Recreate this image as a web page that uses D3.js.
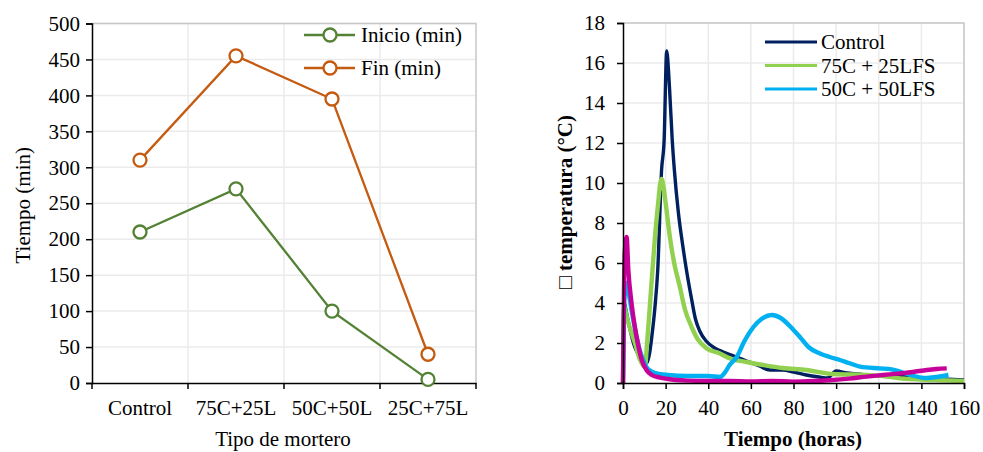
<!DOCTYPE html>
<html><head><meta charset="utf-8">
<script src="https://cdn.jsdelivr.net/npm/d3@7"></script>
<style>
body{margin:0;background:#fff;}
svg{display:block;font-family:"Liberation Serif","Times New Roman",serif;}
</style></head>
<body>
<svg id="c" width="983" height="452"></svg>
<script>
// ---------- Left chart data ----------
const categories = ["Control", "75C+25L", "50C+50L", "25C+75L"];
const inicio = [210, 270, 100, 5];
const fin = [310, 455, 395, 40];
const leftTicks = [0, 50, 100, 150, 200, 250, 300, 350, 400, 450, 500];

// ---------- Right chart data ----------
const controlT = [0,0.6,1.5,3,5.5,8,10,11.2,12.5,13.5,15,16.3,18.1,19.3,20.5,21.8,23.1,24.1,26,28,30,32,34,36,39,43,47,52,58,64,69,75,80,86,92,96,100,105,110,120,130,140,150,160];
const controlV = [0,4.0,3.6,2.8,1.8,1.3,1.05,1.0,1.5,2.3,3.8,5.65,10.65,12.15,16.6,14.8,12.15,10.65,8.5,6.9,5.5,4.3,3.2,2.6,2.1,1.75,1.55,1.35,1.1,0.85,0.65,0.65,0.55,0.4,0.3,0.25,0.6,0.5,0.45,0.35,0.35,0.25,0.2,0.15];
const c75T = [0,0.5,2,4,5.6,8,9.3,10.3,11.3,12.7,15,16.5,17.5,18.1,19,20,22,24,26.7,29,32.2,35,39.3,45,50.2,58,65.8,75,86,98.6,114.4,122,130,145.5,160];
const c75V = [0,3.8,3.2,2.5,2.0,1.15,0.9,0.8,2.0,4.0,7.3,9.0,10.0,10.2,9.8,9.0,7.3,6.0,4.8,3.7,2.8,2.2,1.73,1.5,1.23,1.05,0.9,0.75,0.65,0.45,0.4,0.35,0.23,0.15,0.1];
const c50T = [0,0.8,1.7,2.5,4,6.4,8,9.5,11,13.5,17,21,30,40,45.5,48,50,53.4,57,61.2,65,69.8,74,80,83,87,92.4,97,101.8,106,111.2,120.6,126,130,134.7,142.5,147,152.7];
const c50V = [0,4.5,5.0,4.6,3.65,2.3,1.6,1.15,0.8,0.57,0.45,0.4,0.35,0.35,0.3,0.55,0.9,1.3,2.1,2.8,3.2,3.4,3.25,2.65,2.3,1.8,1.48,1.3,1.15,1.0,0.82,0.73,0.68,0.57,0.4,0.25,0.3,0.4];
const c25T = [0,0.8,1.7,2.5,4,6.4,8.8,11,13.5,17,21,30,40,50,60,70,80,90,98.6,106,114.4,122,130,136,142.5,147,151.9];
const c25V = [0,6.5,7.3,5.65,4.0,2.3,1.15,0.65,0.4,0.28,0.2,0.12,0.1,0.1,0.08,0.1,0.07,0.1,0.15,0.22,0.32,0.4,0.48,0.55,0.65,0.7,0.73];
const rightYTicks = [0,2,4,6,8,10,12,14,16,18];
const rightXTicks = [0,20,40,60,80,100,120,140,160];
const seriesNames = ["Control", "75C + 25LFS", "50C + 50LFS", ""];

const svg = d3.select("#c");
const GRID = "#ebebeb", BORDER = "#c8c8c8", FS = 21;

// ================= LEFT CHART =================
{
  const L = 92, R = 476, T = 23.5, B = 383;
  const x = d3.scaleBand().domain(categories).range([L, R]).padding(0);
  const y = d3.scaleLinear().domain([0, 500]).range([B, T]);
  const g = svg.append("g");
  g.selectAll(".hg").data(leftTicks.slice(1)).enter().append("line")
    .attr("x1", L).attr("x2", R).attr("y1", d => y(d)).attr("y2", d => y(d))
    .attr("stroke", GRID).attr("stroke-width", 1.5);
  const bounds = categories.map(c => x(c)).slice(1);
  g.selectAll(".vg").data(bounds).enter().append("line")
    .attr("x1", d => d).attr("x2", d => d).attr("y1", T).attr("y2", B)
    .attr("stroke", GRID).attr("stroke-width", 1.5);
  g.append("path").attr("d", `M${L},${T}H${R}V${B}`).attr("fill", "none")
    .attr("stroke", BORDER).attr("stroke-width", 1.5);
  const ya = d3.axisLeft(y).tickValues(leftTicks).tickSize(6).tickPadding(6);
  const yg = g.append("g").attr("transform", `translate(${L},0)`).call(ya);
  yg.select(".domain").attr("stroke", "#000").attr("stroke-width", 1.5);
  yg.selectAll(".tick line").attr("stroke", "#000").attr("stroke-width", 1.5);
  yg.selectAll("text").attr("font-size", FS).attr("font-family", "Liberation Serif").attr("fill", "#000");
  const xa = d3.axisBottom(x).tickSize(0).tickPadding(17);
  const xg = g.append("g").attr("transform", `translate(0,${B})`).call(xa);
  xg.select(".domain").attr("stroke", "#000").attr("stroke-width", 1.5);
  xg.selectAll("text").attr("font-size", FS).attr("font-family", "Liberation Serif").attr("fill", "#000");
  g.selectAll(".xt").data([L, ...bounds, R]).enter().append("line")
    .attr("x1", d => d).attr("x2", d => d).attr("y1", B).attr("y2", B + 6)
    .attr("stroke", "#000").attr("stroke-width", 1.5);
  g.append("text").attr("x", (L + R) / 2 - 1).attr("y", 446).attr("text-anchor", "middle")
    .attr("font-size", FS).text("Tipo de mortero");
  g.append("text").attr("transform", `translate(30,${(T + B) / 2 + 2}) rotate(-90)`)
    .attr("text-anchor", "middle").attr("font-size", FS).text("Tiempo (min)");
  const cx = c => x(c) + x.bandwidth() / 2;
  const ser = [{name: "Inicio (min)", vals: inicio, color: "#548235"},
               {name: "Fin (min)", vals: fin, color: "#C55A11"}];
  const line = d3.line().x(d => cx(d.c)).y(d => y(d.v));
  ser.forEach((s, i) => {
    const pts = categories.map((c, j) => ({c, v: s.vals[j]}));
    g.append("path").datum(pts).attr("d", line).attr("fill", "none")
      .attr("stroke", s.color).attr("stroke-width", 2.3);
    g.selectAll(".m" + i).data(pts).enter().append("circle")
      .attr("cx", d => cx(d.c)).attr("cy", d => y(d.v)).attr("r", 6.5)
      .attr("fill", "#fff").attr("stroke", s.color).attr("stroke-width", 2.3);
    const ly = 35 + i * 33;
    g.append("line").attr("x1", 304).attr("x2", 355).attr("y1", ly).attr("y2", ly)
      .attr("stroke", s.color).attr("stroke-width", 2.3);
    g.append("circle").attr("cx", 330).attr("cy", ly).attr("r", 6.5)
      .attr("fill", "#fff").attr("stroke", s.color).attr("stroke-width", 2.3);
    g.append("text").attr("x", 361).attr("y", ly).attr("dy", "0.35em")
      .attr("font-size", FS).text(s.name);
  });
}

// ================= RIGHT CHART =================
{
  const L = 623, R = 964, T = 23, B = 383;
  const x = d3.scaleLinear().domain([0, 160]).range([L, R]);
  const y = d3.scaleLinear().domain([0, 18]).range([B, T]);
  const g = svg.append("g");
  g.selectAll(".hg").data(rightYTicks.slice(1)).enter().append("line")
    .attr("x1", L).attr("x2", R).attr("y1", d => y(d)).attr("y2", d => y(d))
    .attr("stroke", GRID).attr("stroke-width", 1.5);
  g.selectAll(".vg").data(rightXTicks.slice(1)).enter().append("line")
    .attr("x1", d => x(d)).attr("x2", d => x(d)).attr("y1", T).attr("y2", B)
    .attr("stroke", GRID).attr("stroke-width", 1.5);
  g.append("path").attr("d", `M${L},${T}H${R}V${B}`).attr("fill", "none")
    .attr("stroke", BORDER).attr("stroke-width", 1.5);

  const series = [
    {t: controlT, v: controlV, color: "#002060", w: 3.4},
    {t: c75T, v: c75V, color: "#92D050", w: 4.4},
    {t: c50T, v: c50V, color: "#00B0F0", w: 4.4},
    {t: c25T, v: c25V, color: "#C8009A", w: 4.4}
  ];
  const line = d3.line().x(d => x(d[0])).y(d => y(d[1])).curve(d3.curveMonotoneX);
  series.forEach(s => {
    const pts = s.t.map((t, i) => [t, s.v[i]]);
    g.append("path").datum(pts).attr("d", line).attr("fill", "none")
      .attr("stroke", s.color).attr("stroke-width", s.w).attr("stroke-linejoin", "round");
  });

  const ya = d3.axisLeft(y).tickValues(rightYTicks).tickSize(6).tickPadding(12);
  const yg = g.append("g").attr("transform", `translate(${L},0)`).call(ya);
  yg.select(".domain").attr("stroke", "#000").attr("stroke-width", 1.5);
  yg.selectAll(".tick line").attr("stroke", "#000").attr("stroke-width", 1.5);
  yg.selectAll("text").attr("font-size", FS).attr("font-family", "Liberation Serif").attr("fill", "#000");
  const xa = d3.axisBottom(x).tickValues(rightXTicks).tickSize(6).tickPadding(11);
  const xg = g.append("g").attr("transform", `translate(0,${B})`).call(xa);
  xg.select(".domain").attr("stroke", "#000").attr("stroke-width", 1.5);
  xg.selectAll(".tick line").attr("stroke", "#000").attr("stroke-width", 1.5);
  xg.selectAll("text").attr("font-size", FS).attr("font-family", "Liberation Serif").attr("fill", "#000");

  g.append("text").attr("x", 793).attr("y", 446).attr("text-anchor", "middle")
    .attr("font-size", FS).attr("font-weight", "bold").text("Tiempo (horas)");
  g.append("text").attr("transform", `translate(572,202) rotate(-90)`)
    .attr("text-anchor", "middle").attr("font-size", FS).attr("font-weight", "bold")
    .text("□ temperatura (°C)");

  series.slice(0, 3).forEach((s, i) => {
    const ly = 42 + i * 23.5;
    g.append("line").attr("x1", 765).attr("x2", 817).attr("y1", ly).attr("y2", ly)
      .attr("stroke", s.color).attr("stroke-width", 3);
    g.append("text").attr("x", 821).attr("y", ly).attr("dy", "0.35em")
      .attr("font-size", FS).text(seriesNames[i]);
  });
}
</script>
</body></html>
